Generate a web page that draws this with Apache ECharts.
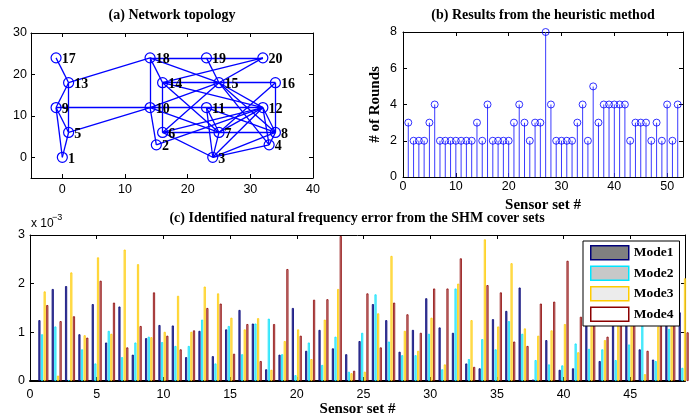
<!DOCTYPE html>
<html>
<head>
<meta charset="utf-8">
<title>SHM cover sets</title>
<script src="https://cdn.jsdelivr.net/npm/echarts@6.0.0/dist/echarts.min.js"></script>
<style>
  html, body { margin: 0; padding: 0; background: #fff; }
  #main { width: 692px; height: 416px; }
</style>
</head>
<body>
<div id="main"></div>
<script>
// (a) 节点坐标, 第 i 个元素对应节点 i+1
var nodeX = [0, 15, 24, 33, 1, 16, 25, 34, -1, 14, 23, 32, 1, 16, 25, 34, -1, 14, 23, 32];
var nodeY = [0, 3, 0, 3, 6, 6, 6, 6, 12, 12, 12, 12, 18, 18, 18, 18, 24, 24, 24, 24];

// 连线
var edges = [
    [17, 13], [13, 9], [13, 5], [9, 5], [9, 1], [5, 1], [13, 18], [9, 10], [5, 10],
    [18, 19], [19, 20], [18, 10], [18, 14], [18, 15], [19, 15], [20, 14], [20, 15],
    [14, 15], [15, 16], [16, 8], [16, 7], [10, 11], [11, 12], [10, 15], [10, 2], [10, 7],
    [14, 6], [14, 7], [14, 12], [6, 15], [6, 12], [6, 7], [7, 8], [6, 3], [2, 12],
    [15, 8], [15, 4], [15, 12], [11, 3], [11, 7], [11, 8], [12, 3], [12, 7], [12, 4],
    [12, 8], [3, 8], [3, 4], [3, 7], [4, 8]
];
var topoTicksX = [0, 10, 20, 30, 40];
var topoTicksY = [0, 10, 20, 30];

// (b) 每个传感器组的轮数
var rounds = [3, 2, 2, 2, 3, 4, 2, 2, 2, 2, 2, 2, 2, 3, 2, 4, 2, 2, 2, 2,
              3, 4, 3, 2, 3, 3, 8, 4, 2, 2, 2, 2, 3, 4, 2, 5, 3, 4, 4, 4,
              4, 4, 2, 3, 3, 3, 2, 3, 2, 4, 2, 4];
var roundTicksX = [0, 10, 20, 30, 40, 50];
var roundTicksY = [0, 2, 4, 6, 8];

// (c) 频率误差 (x 10^-3)
var mode1 = [1.25, 1.89, 1.95, 0.96, 1.58, 0.79, 1.53, 0.54, 0.88, 1.15,
             1.14, 0.49, 1.03, 0.51, 1.06, 1.46, 1.18, 0.24, 0.54, 1.50,
             0.62, 1.05, 0.67, 0.55, 0.82, 1.58, 1.25, 0.60, 1.05, 1.70,
             1.10, 0.99, 0.36, 0.26, 1.27, 1.44, 1.92, 0.03, 0.84, 0.23,
             0.26, 1.40, 0.41, 1.50, 1.70, 0.65, 0.44, 1.60, 1.41];
var mode2 = [0.96, 1.12, 0.02, 0.65, 0.36, 1.03, 0.49, 0.79, 0.91, 0.80,
             0.72, 0.72, 1.26, 0.36, 1.13, 0.55, 1.18, 1.28, 0.55, 0.12,
             0.79, 0.33, 0.91, 0.19, 0.99, 1.78, 0.81, 0.53, 0.53, 0.97,
             0.24, 1.90, 0.45, 0.86, 0.65, 1.23, 0.97, 0.43, 0.34, 0.32,
             0.77, 0.66, 0.65, 0.43, 0.75, 1.14, 0.41, 1.07, 0.27];
var mode3 = [1.84, 0.11, 2.23, 0.94, 2.54, 0.97, 2.70, 2.40, 0.90, 1.01,
             1.75, 1.01, 1.94, 1.80, 1.30, 1.06, 1.29, 0.23, 0.82, 1.06,
             0.45, 1.26, 1.89, 0.16, 0.19, 1.39, 2.57, 1.03, 0.62, 1.30,
             0.34, 2.00, 1.25, 2.91, 1.12, 2.42, 1.08, 0.93, 1.04, 1.17,
             0.59, 1.25, 0.84, 1.15, 1.20, 0.14, 1.12, 1.30, 2.11];
var mode4 = [1.56, 1.23, 1.33, 0.89, 2.06, 1.61, 0.69, 1.13, 1.82, 0.93,
             0.65, 1.04, 1.50, 1.59, 0.56, 1.17, 0.41, 1.17, 2.30, 0.93,
             1.67, 1.68, 2.98, 0.21, 1.80, 0.69, 1.61, 1.37, 0.99, 1.90,
             1.90, 2.52, 0.29, 1.97, 1.82, 0.81, 0.72, 1.59, 1.63, 2.47,
             1.32, 1.60, 0.91, 1.16, 1.90, 0.62, 1.30, 1.40, 1.00];
var modeNames = ['Mode1', 'Mode2', 'Mode3', 'Mode4'];
var errTicksX = [0, 5, 10, 15, 20, 25, 30, 35, 40, 45];
var errTicksY = [0, 1, 2, 3];

// 样式
var serif = 'Liberation Serif';
var sans = 'Liberation Sans';
var modeEdge = ['#00007a', '#00e5ff', '#ffcc00', '#8b0000'];
var modeFace = ['#55559c', '#9ae9f2', '#ffe68a', '#d6a4a4'];
var legendFace = ['#808080', '#c8c8c8', '#ececec', '#ffffff'];

// 坐标轴: 带内刻度的边框轴
function boxAxis(grid, pos, min, max, ticks, labels, margin) {
    return {
        type: 'value', gridIndex: grid, position: pos, min: min, max: max,
        splitLine: {show: false},
        axisLine: {show: true, onZero: false, lineStyle: {color: '#000', width: 1}},
        axisTick: {show: true, inside: true, length: 4, customValues: ticks, lineStyle: {color: '#000'}},
        axisLabel: {show: labels, customValues: ticks, margin: margin, color: '#000',
                    fontFamily: sans, fontSize: 12.5}
    };
}

function fillChart() {
    var myChart = echarts.init(document.getElementById('main'));

    var nodes = nodeX.map(function (x, i) {
        return {name: String(i + 1), value: [x, nodeY[i]]};
    });
    var links = edges.map(function (e) {
        return {source: String(e[0]), target: String(e[1])};
    });

    var xAxes = [
        boxAxis(0, 'bottom', -5, 40, topoTicksX, true, 5),
        boxAxis(0, 'top', -5, 40, topoTicksX, false, 0),
        boxAxis(1, 'bottom', 0, 53, roundTicksX, true, 3),
        boxAxis(1, 'top', 0, 53, roundTicksX, false, 0),
        boxAxis(2, 'bottom', 0, 49.1, errTicksX, true, 7),
        boxAxis(2, 'top', 0, 49.1, errTicksX, false, 0)
    ];
    var yAxes = [
        boxAxis(0, 'left', -5, 30, topoTicksY, true, 4),
        boxAxis(0, 'right', -5, 30, topoTicksY, false, 0),
        boxAxis(1, 'left', 0, 8, roundTicksY, true, 6),
        boxAxis(1, 'right', 0, 8, roundTicksY, false, 0),
        boxAxis(2, 'left', 0, 3, errTicksY, true, 5),
        boxAxis(2, 'right', 0, 3, errTicksY, false, 0)
    ];
    xAxes[4].axisLine.lineStyle.width = 2;

    var axisNameStyle = {fontFamily: serif, fontWeight: 'bold', fontSize: 15, color: '#000'};
    xAxes[2].name = 'Sensor set #';
    xAxes[2].nameLocation = 'middle';
    xAxes[2].nameGap = 21;
    xAxes[2].nameTextStyle = axisNameStyle;
    xAxes[4].name = 'Sensor set #';
    xAxes[4].nameLocation = 'middle';
    xAxes[4].nameGap = 19;
    xAxes[4].nameTextStyle = axisNameStyle;
    yAxes[2].name = '# of Rounds';
    yAxes[2].nameLocation = 'middle';
    yAxes[2].nameGap = 20;
    yAxes[2].nameTextStyle = axisNameStyle;

    var series = [
        {
            name: 'topology', type: 'graph', coordinateSystem: 'cartesian2d',
            xAxisIndex: 0, yAxisIndex: 0, layout: 'none', silent: true,
            data: nodes, links: links,
            symbol: 'circle', symbolSize: 10,
            itemStyle: {color: 'rgba(255,255,255,0)', borderColor: '#0000ff', borderWidth: 1.2},
            lineStyle: {color: '#0000ff', width: 1.3, opacity: 1, curveness: 0},
            label: {show: true, position: 'right', distance: 0, offset: [0, 2],
                    formatter: '{b}', fontFamily: serif, fontWeight: 'bold', fontSize: 14, color: '#000'}
        },
        {
            name: 'stem', type: 'bar', xAxisIndex: 2, yAxisIndex: 2, silent: true,
            data: rounds.map(function (v, i) { return [i + 1, v]; }),
            barWidth: 1, itemStyle: {color: '#3b3bff'}
        },
        {
            name: 'stemHead', type: 'scatter', xAxisIndex: 2, yAxisIndex: 2, silent: true,
            data: rounds.map(function (v, i) { return [i + 1, v]; }),
            symbol: 'circle', symbolSize: 7,
            itemStyle: {color: 'rgba(255,255,255,0)', borderColor: '#0000ff', borderWidth: 1}
        }
    ];
    [mode1, mode2, mode3, mode4].forEach(function (arr, m) {
        series.push({
            name: modeNames[m], type: 'bar', xAxisIndex: 4, yAxisIndex: 4, silent: true,
            data: arr.map(function (v, i) { return [i + 1, v]; }),
            barWidth: 2.1, barGap: '25%',
            itemStyle: {color: modeFace[m], borderColor: modeEdge[m], borderWidth: 0.8}
        });
    });

    var titleStyle = {fontFamily: serif, fontWeight: 'bold', fontSize: 14, color: '#000'};
    var option = {
        animation: false,
        backgroundColor: '#fff',
        title: [
            {text: '(a) Network topology', left: 172, top: 8, textAlign: 'center', padding: 0, textStyle: titleStyle},
            {text: '(b) Results from the heuristic method', left: 543, top: 8, textAlign: 'center', padding: 0, textStyle: titleStyle},
            {text: '(c) Identified natural frequency error from the SHM cover sets', left: 357, top: 211, textAlign: 'center', padding: 0, textStyle: titleStyle}
        ],
        grid: [
            {left: 31, top: 33, width: 282, height: 145, outerBoundsMode: 'none'},
            {left: 403, top: 32, width: 280, height: 145, outerBoundsMode: 'none'},
            {left: 30, top: 235, width: 655, height: 146, outerBoundsMode: 'none'}
        ],
        legend: {
            orient: 'vertical', left: 583, top: 241, padding: [4, 6, 4, 7],
            itemWidth: 38, itemHeight: 14, itemGap: 5, icon: 'rect',
            backgroundColor: '#fff', borderColor: '#000', borderWidth: 1, borderRadius: 0,
            selectedMode: false,
            textStyle: {fontFamily: serif, fontWeight: 'bold', fontSize: 13.5, color: '#000'},
            data: modeNames.map(function (n, m) {
                return {name: n, itemStyle: {color: legendFace[m], borderColor: modeEdge[m], borderWidth: 1.5}};
            })
        },
        graphic: [
            {type: 'text', left: 31, top: 218, style: {text: 'x 10', fontFamily: sans, fontSize: 12, fill: '#000'}},
            {type: 'text', left: 52, top: 213, style: {text: '\u22123', fontFamily: sans, fontSize: 9, fill: '#000'}}
        ],
        xAxis: xAxes,
        yAxis: yAxes,
        series: series
    };

    myChart.setOption(option);
}

window.addEventListener("load", function () { fillChart(); }, false);
</script>
</body>
</html>
